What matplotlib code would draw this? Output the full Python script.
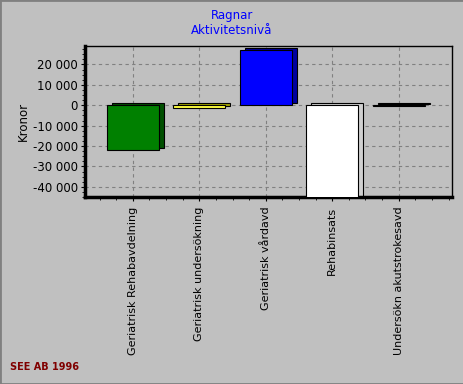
import matplotlib.pyplot as plt
from matplotlib.ticker import FuncFormatter, MultipleLocator
import matplotlib.transforms as mtransforms

# Kategorier och värden (kronor)
categories = ["Geriatrisk Rehabavdelning", "Geriatrisk undersökning",
              "Geriatrisk vårdavd", "Rehabinsats", "Undersökn akutstrokesavd"]
values = [-22000, -1500, 27000, -46000, -500]
face_colors = ["#008000", "#ffff40", "#0000ff", "#ffffff", "#505050"]
side_colors = ["#005000", "#a0a000", "#0000a0", "#d0d0d0", "#303030"]
y_ticks = [-40000, -30000, -20000, -10000, 0, 10000, 20000]

bg = "#c0c0c0"
fig = plt.figure(figsize=(4.64, 3.84), dpi=100, facecolor=bg)
ax = fig.add_axes([0.183, 0.487, 0.791, 0.393])
ax.set_facecolor(bg)

x = list(range(len(categories)))
# "3D"-sida: mörkare stapel förskjuten några pixlar
shift = mtransforms.offset_copy(ax.transData, fig=fig, x=5, y=2, units='dots')
ax.bar(x, values, width=0.78, color=side_colors, edgecolor="black",
       linewidth=0.8, transform=shift, zorder=2)
ax.bar(x, values, width=0.78, color=face_colors, edgecolor="black",
       linewidth=0.8, zorder=3)

ax.set_xlim(-0.72, 4.8)
ax.set_ylim(-45000, 29000)
ax.set_yticks(y_ticks)
ax.yaxis.set_major_formatter(FuncFormatter(lambda v, p: f"{int(v):,}".replace(",", " ")))
ax.yaxis.set_minor_locator(MultipleLocator(2500))
ax.set_xticks(x)
ax.set_xticklabels(categories, rotation=90, fontsize=8)
ax.xaxis.set_minor_locator(MultipleLocator(0.25))
ax.tick_params(axis='y', labelsize=8.5, length=3, pad=2)
ax.tick_params(axis='x', length=3, pad=4)
ax.tick_params(which='minor', length=2)

ax.grid(True, which='major', linestyle=(0, (3, 3)), color="#808080", linewidth=0.8, zorder=0)
ax.set_axisbelow(True)

for s in ["top", "right"]:
    ax.spines[s].set_linewidth(1)
for s in ["left", "bottom"]:
    ax.spines[s].set_linewidth(2.5)

ax.set_ylabel("Kronor", fontsize=8.5, labelpad=2)

fig.text(0.5, 0.96, "Ragnar", color="#0000ff", fontsize=8.5, ha="center", va="center")
fig.text(0.5, 0.921, "Aktivitetsnivå", color="#0000ff", fontsize=8.5, ha="center", va="center")
fig.text(0.022, 0.044, "SEE AB 1996", color="#800000", fontsize=7, fontweight="bold",
         ha="left", va="center")

# ram runt figuren
fig.patches.append(plt.Rectangle((0, 0), 1, 1, transform=fig.transFigure,
                                 fill=False, edgecolor="#808080", linewidth=2))

fig.savefig("out.png", dpi=100, facecolor=bg)
